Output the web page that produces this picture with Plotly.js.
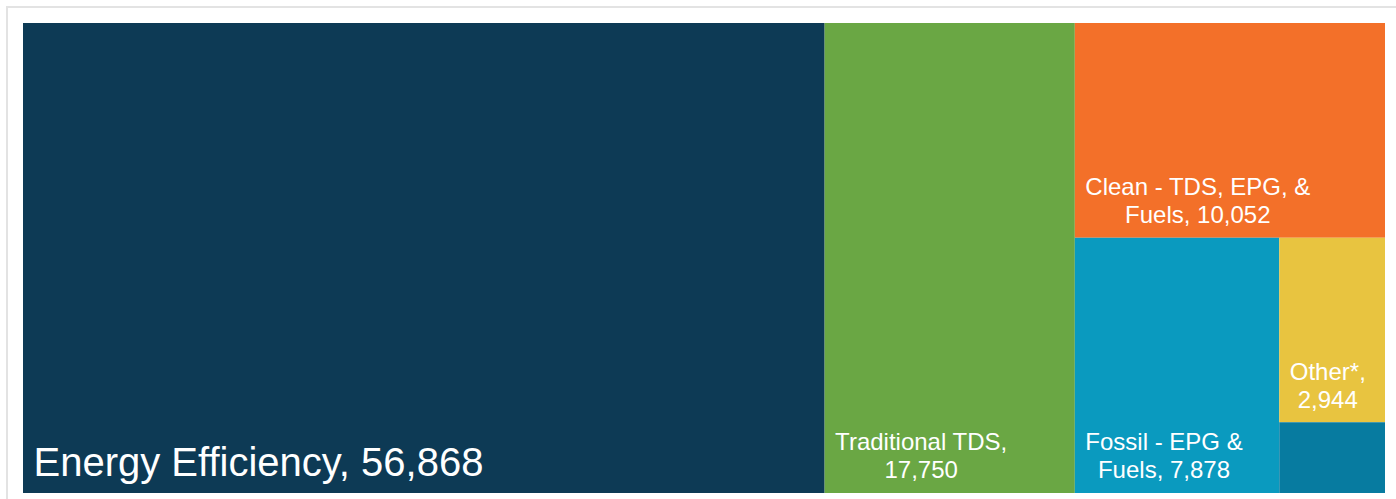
<!DOCTYPE html>
<html>
<head>
<meta charset="utf-8">
<script src="https://cdn.plot.ly/plotly-3.0.1.min.js"></script>
<style>
  html, body { margin: 0; padding: 0; background: #fff; overflow: hidden; }
  #frame { position: absolute; left: 6px; top: 6px; width: 1500px; height: 600px; border: 2px solid #e3e3e3; box-sizing: border-box; }
  #chart { position: absolute; left: 0; top: 0; width: 1396px; height: 499px; }
</style>
</head>
<body>
<div id="frame"></div>
<div id="chart"></div>
<script>
// Categories and values
const labels = ["Energy Efficiency", "Traditional TDS", "Clean - TDS, EPG, & Fuels", "Fossil - EPG & Fuels", "Other*", "Unlabeled"];
const values = [56868, 17750, 10052, 7878, 2944, 1130];
// Display labels (line breaks as in the reference); empty = no label drawn
const displayLabels = ["Energy Efficiency, ", "Traditional TDS,<br>", "Clean - TDS, EPG, &<br>Fuels, ", "Fossil - EPG &<br>Fuels, ", "Other*,<br>", ""];
const showValue = [true, true, true, true, true, false];
const colors = ["#0d3a55", "#6aa744", "#f37029", "#0a9abf", "#e8c440", "#077ba0"];
const fontSizes = [40, 24, 24, 24, 24, 24];

const fmt = v => v.toLocaleString("en-US");
const texts = labels.map((l, i) => showValue[i] ? displayLabels[i] + fmt(values[i]) : " ");

const trace = {
  type: "treemap",
  labels: labels,
  parents: labels.map(() => ""),
  values: values,
  text: texts,
  textinfo: "text",
  textposition: "bottom left",
  textfont: { family: "Arial, Liberation Sans, sans-serif", color: "#ffffff", size: fontSizes },
  marker: { colors: colors, line: { width: 0 }, pad: { t: 0, l: 0, r: 0, b: 0 } },
  tiling: { packing: "squarify", squarifyratio: 1, pad: 0 },
  pathbar: { visible: false },
  sort: true,
  hoverinfo: "none"
};

const layout = {
  width: 1396, height: 499,
  margin: { l: 23, r: 11, t: 23, b: 6 },
  paper_bgcolor: "rgba(0,0,0,0)",
  font: { family: "Arial, Liberation Sans, sans-serif" },
  showlegend: false
};

const PAD_L = 10.5, PAD_B = 9.5, LINE_EM = 1.17;

Plotly.newPlot("chart", [trace], layout, { displayModeBar: false, staticPlot: true }).then(gd => {
  gd.querySelectorAll("g.slice").forEach(s => {
    const t = s.querySelector("text.slicetext");
    const p = s.querySelector("path.surface");
    if (!t || !p || !t.textContent.trim()) return;
    const lines = t.querySelectorAll("tspan.line");
    if (lines.length > 1) {
      const bb = t.getBBox();
      const cx = bb.x + bb.width / 2;
      t.setAttribute("text-anchor", "middle");
      lines.forEach((ln, i) => {
        ln.setAttribute("x", cx);
        if (i > 0) ln.setAttribute("dy", LINE_EM + "em");
      });
    }
    const tr = t.getBoundingClientRect();
    const pr = p.getBoundingClientRect();
    const dx = (pr.left + PAD_L) - tr.left;
    const dy = (pr.bottom - PAD_B) - tr.bottom;
    t.setAttribute("transform", "translate(" + dx + "," + dy + ") " + (t.getAttribute("transform") || ""));
  });
});
</script>
</body>
</html>
